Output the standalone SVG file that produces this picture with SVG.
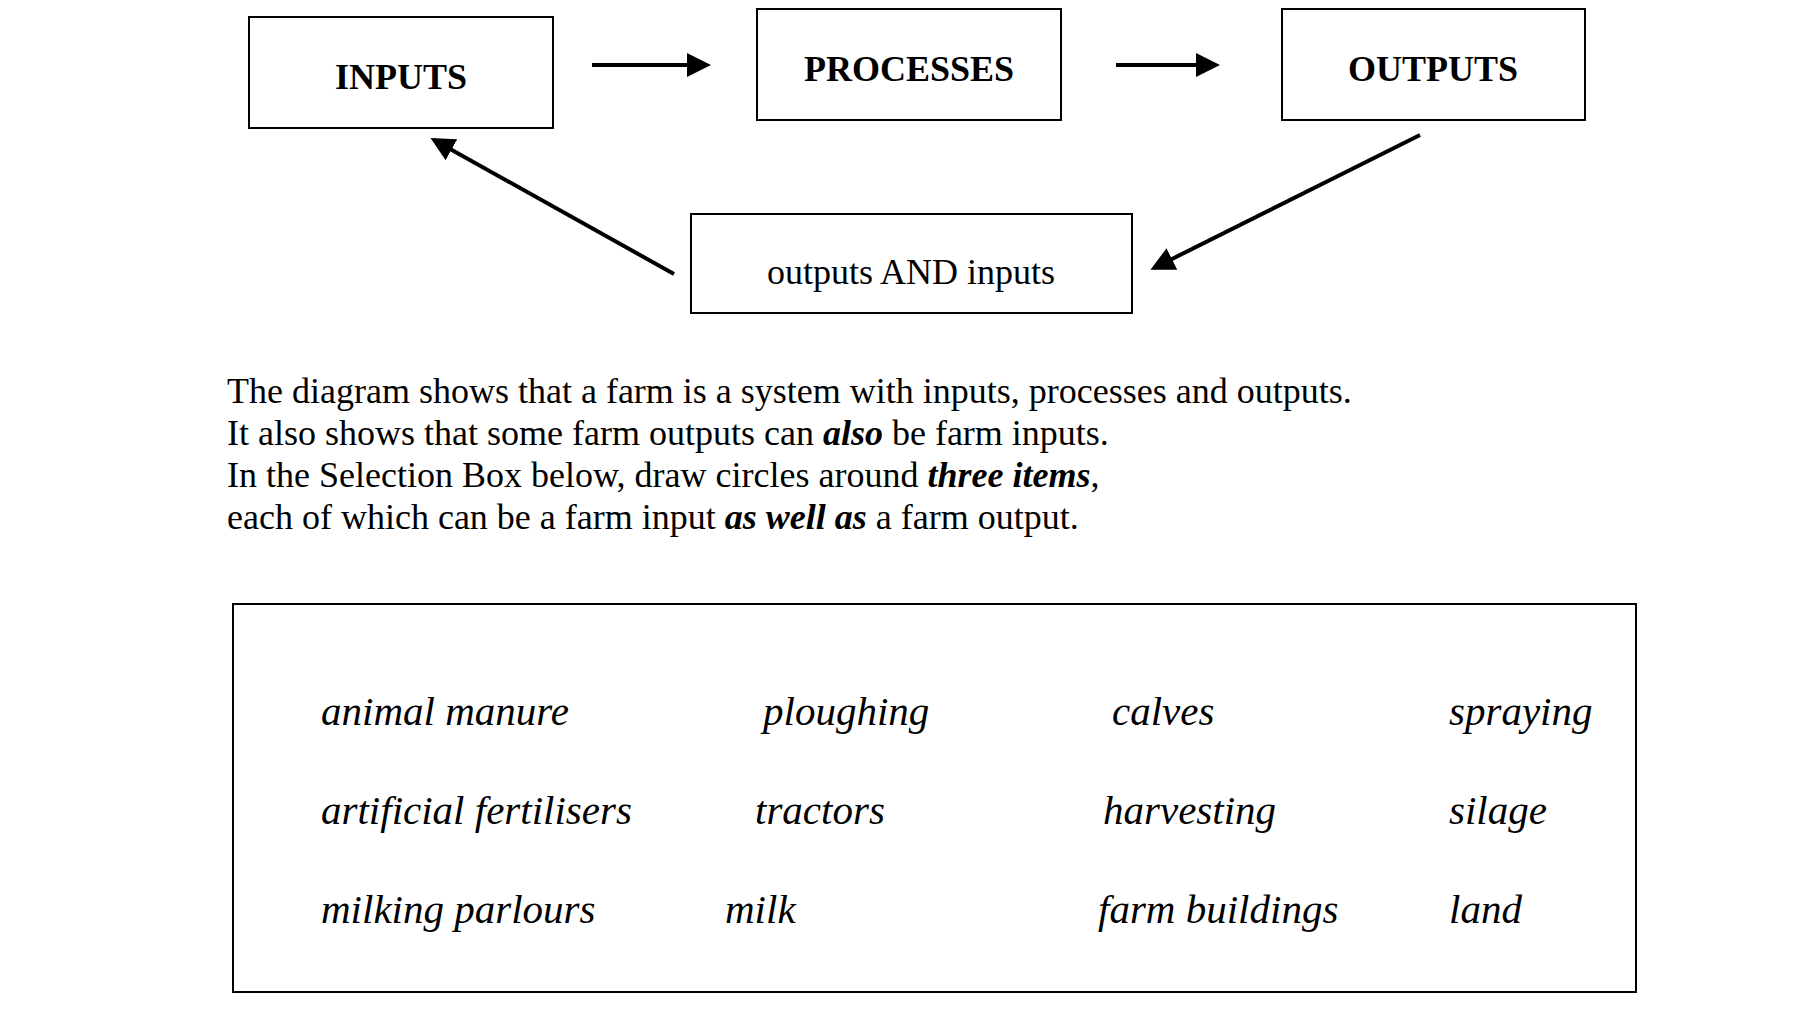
<svg xmlns="http://www.w3.org/2000/svg" width="1818" height="1025" viewBox="0 0 1818 1025">
<style>
.b{fill:#fff;stroke:#000;stroke-width:2}
.h{font-family:"Liberation Serif",serif;font-weight:bold;font-size:36px;text-anchor:middle}
.t{font-family:"Liberation Serif",serif;font-size:36px}
.i{font-family:"Liberation Serif",serif;font-style:italic;font-size:41px}
.c{stroke:#000;stroke-width:4;fill:none}
</style>
<defs><marker id="a" markerWidth="6" markerHeight="6" refX="5" refY="3" orient="auto" markerUnits="strokeWidth"><path d="M0,0L6,3L0,6z"/></marker></defs>
<rect width="1818" height="1025" fill="#fff"/>
<g id="inputs"><rect class="b" x="249" y="17" width="304" height="111"/><text class="h" x="401" y="89">INPUTS</text></g>
<g id="processes"><rect class="b" x="757" y="9" width="304" height="111"/><text class="h" x="909" y="81">PROCESSES</text></g>
<g id="outputs"><rect class="b" x="1282" y="9" width="303" height="111"/><text class="h" x="1433" y="81">OUTPUTS</text></g>
<g id="both"><rect class="b" x="691" y="214" width="441" height="99"/><text class="t" x="911" y="284" text-anchor="middle">outputs AND inputs</text></g>
<g id="connectors">
<line class="c" x1="592" y1="65" x2="707" y2="65" marker-end="url(#a)"/>
<line class="c" x1="1116" y1="65" x2="1216" y2="65" marker-end="url(#a)"/>
<line class="c" x1="674" y1="274" x2="434" y2="140" marker-end="url(#a)"/>
<line class="c" x1="1420" y1="135" x2="1154" y2="268" marker-end="url(#a)"/>
</g>
<g id="para" class="t">
<text x="227" y="403">The diagram shows that a farm is a system with inputs, processes and outputs.</text>
<text x="227" y="445">It also shows that some farm outputs can <tspan font-weight="bold" font-style="italic">also</tspan> be farm inputs.</text>
<text x="227" y="487">In the Selection Box below, draw circles around <tspan font-weight="bold" font-style="italic">three items</tspan>,</text>
<text x="227" y="529">each of which can be a farm input <tspan font-weight="bold" font-style="italic">as well as</tspan> a farm output.</text>
</g>
<g id="selection">
<rect class="b" x="233" y="604" width="1403" height="388"/>
<g class="i">
<text x="321" y="725">animal manure</text><text x="763" y="725">ploughing</text><text x="1112" y="725">calves</text><text x="1449" y="725">spraying</text>
<text x="321" y="824">artificial fertilisers</text><text x="755" y="824">tractors</text><text x="1103" y="824">harvesting</text><text x="1449" y="824">silage</text>
<text x="321" y="923">milking parlours</text><text x="725" y="923">milk</text><text x="1098" y="923">farm buildings</text><text x="1449" y="923">land</text>
</g></g>
</svg>
